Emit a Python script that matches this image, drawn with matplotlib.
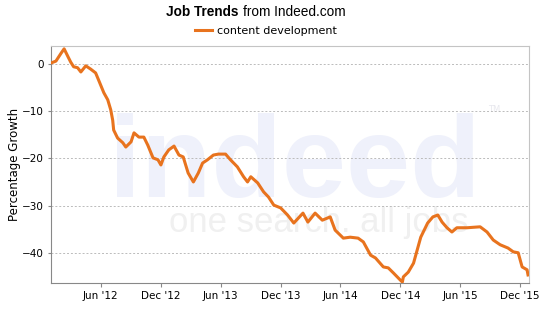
import pandas as pd
import matplotlib
matplotlib.use("Agg")
import matplotlib.pyplot as plt
import matplotlib.dates as mdates

# values
dates = ["2012-01-01", "2012-01-16", "2012-02-01", "2012-02-10", "2012-02-22",
         "2012-03-01", "2012-03-10", "2012-03-22", "2012-04-01", "2012-04-16",
         "2012-05-01", "2012-05-16", "2012-05-25", "2012-06-10", "2012-06-22",
         "2012-07-01", "2012-07-07", "2012-07-10", "2012-07-22", "2012-08-07",
         "2012-08-16", "2012-09-01", "2012-09-10", "2012-09-25", "2012-10-10",
         "2012-10-22", "2012-11-07", "2012-11-22", "2012-12-01", "2012-12-10",
         "2012-12-25", "2013-01-10", "2013-01-25", "2013-02-07", "2013-02-22",
         "2013-03-10", "2013-03-25", "2013-04-07", "2013-04-22", "2013-05-10",
         "2013-05-25", "2013-06-16", "2013-07-01", "2013-07-22", "2013-08-10",
         "2013-08-22", "2013-09-01", "2013-09-22", "2013-10-10", "2013-10-25",
         "2013-11-10", "2013-12-01", "2013-12-22", "2014-01-10", "2014-02-07",
         "2014-02-22", "2014-03-16", "2014-04-07", "2014-05-01", "2014-05-16",
         "2014-06-10", "2014-07-01", "2014-07-25", "2014-08-10", "2014-09-01",
         "2014-09-16", "2014-10-10", "2014-10-25", "2014-11-10", "2014-12-01",
         "2014-12-07", "2014-12-10", "2014-12-25", "2015-01-10", "2015-02-01",
         "2015-02-22", "2015-03-10", "2015-03-25", "2015-04-07", "2015-04-22",
         "2015-05-07", "2015-05-22", "2015-06-22", "2015-08-01", "2015-08-22",
         "2015-09-10", "2015-10-01", "2015-10-25", "2015-11-10", "2015-11-25",
         "2015-12-07", "2015-12-22", "2015-12-25"]
growth = [0.2, 0.6, 2.3, 3.2, 1.5,
          0.4, -0.6, -0.8, -1.7, -0.4,
          -1.1, -1.9, -3.4, -6.1, -7.6,
          -9.7, -11.9, -14.0, -15.7, -16.7,
          -17.6, -16.5, -14.6, -15.5, -15.5,
          -17.2, -19.9, -20.3, -21.4, -19.7,
          -18.2, -17.4, -19.3, -19.7, -23.1,
          -25.0, -23.1, -21.0, -20.3, -19.3,
          -19.1, -19.1, -20.3, -21.8, -23.9,
          -25.0, -23.9, -25.2, -27.1, -28.2,
          -29.9, -30.5, -32.0, -33.7, -31.6,
          -33.5, -31.6, -33.1, -32.4, -35.2,
          -36.9, -36.7, -36.9, -37.7, -40.5,
          -41.1, -43.0, -43.2, -44.3, -45.8,
          -46.2, -45.1, -44.1, -42.2, -36.7,
          -33.7, -32.4, -32.0, -33.5, -34.7,
          -35.6, -34.7, -34.7, -34.5, -35.6,
          -37.3, -38.3, -39.0, -39.8, -40.0,
          -43.0, -43.6, -44.7]
yticks = [0, -10, -20, -30, -40]

df = pd.DataFrame({"date": pd.to_datetime(dates), "growth": growth})

plt.rcParams["font.family"] = "DejaVu Sans"
fig = plt.figure(figsize=(5.49, 3.17), dpi=100)
ax = fig.add_axes([0.0929, 0.1073, 0.8707, 0.7476])

# faint watermark behind the chart
ax.text(0.51, 0.363, "indeed", transform=ax.transAxes, ha="center", va="baseline",
        fontsize=83, fontweight="bold", family="Liberation Sans",
        color="#eff1fb", zorder=0)
ax.text(0.915, 0.72, "TM", transform=ax.transAxes, fontsize=6, color="#e8e8ee", zorder=0)
ax.text(0.56, 0.215, "one search. all jobs", transform=ax.transAxes, ha="center",
        va="baseline", fontsize=25, family="Liberation Sans",
        color="#f0f0f0", zorder=0)

line, = ax.plot(df["date"], df["growth"], color="#e8731e", linewidth=2.2, zorder=3,
                label="content development")

ax.set_ylim(-46.4, 3.8)
ax.set_xlim(pd.Timestamp("2012-01-01"), pd.Timestamp("2015-12-28"))
ax.set_yticks(yticks)
ax.yaxis.grid(True, linestyle=(0, (2, 2)), color="#bbbbbb", linewidth=0.7)
ax.set_axisbelow(True)

ax.xaxis.set_major_locator(mdates.MonthLocator(bymonth=[6, 12]))
ax.xaxis.set_major_formatter(mdates.DateFormatter("%b '%y"))
ax.tick_params(axis="x", length=3, color="#888888", labelsize=7.5, pad=3)
ax.tick_params(axis="y", length=2, color="#888888", labelsize=7.5, pad=3)

for side in ["left", "bottom"]:
    ax.spines[side].set_color("#888888")
for side in ["top", "right"]:
    ax.spines[side].set_color("#c4c4c4")

ax.set_ylabel("Percentage Growth", fontsize=8.5, labelpad=1)

# title: bold part + regular part
fig.text(0.4335, 0.962, "Job Trends", ha="right", va="center", fontsize=9.8,
         fontweight="bold", family="Liberation Sans")
fig.text(0.4426, 0.962, "from Indeed.com", ha="left", va="center", fontsize=9.8,
         family="Liberation Sans")
fig.legend(handles=[line], loc="center", bbox_to_anchor=(0.485, 0.902), frameon=False,
           fontsize=8, handlelength=1.5, handletextpad=0.45)

fig.savefig("out.png", dpi=100, facecolor="white")
